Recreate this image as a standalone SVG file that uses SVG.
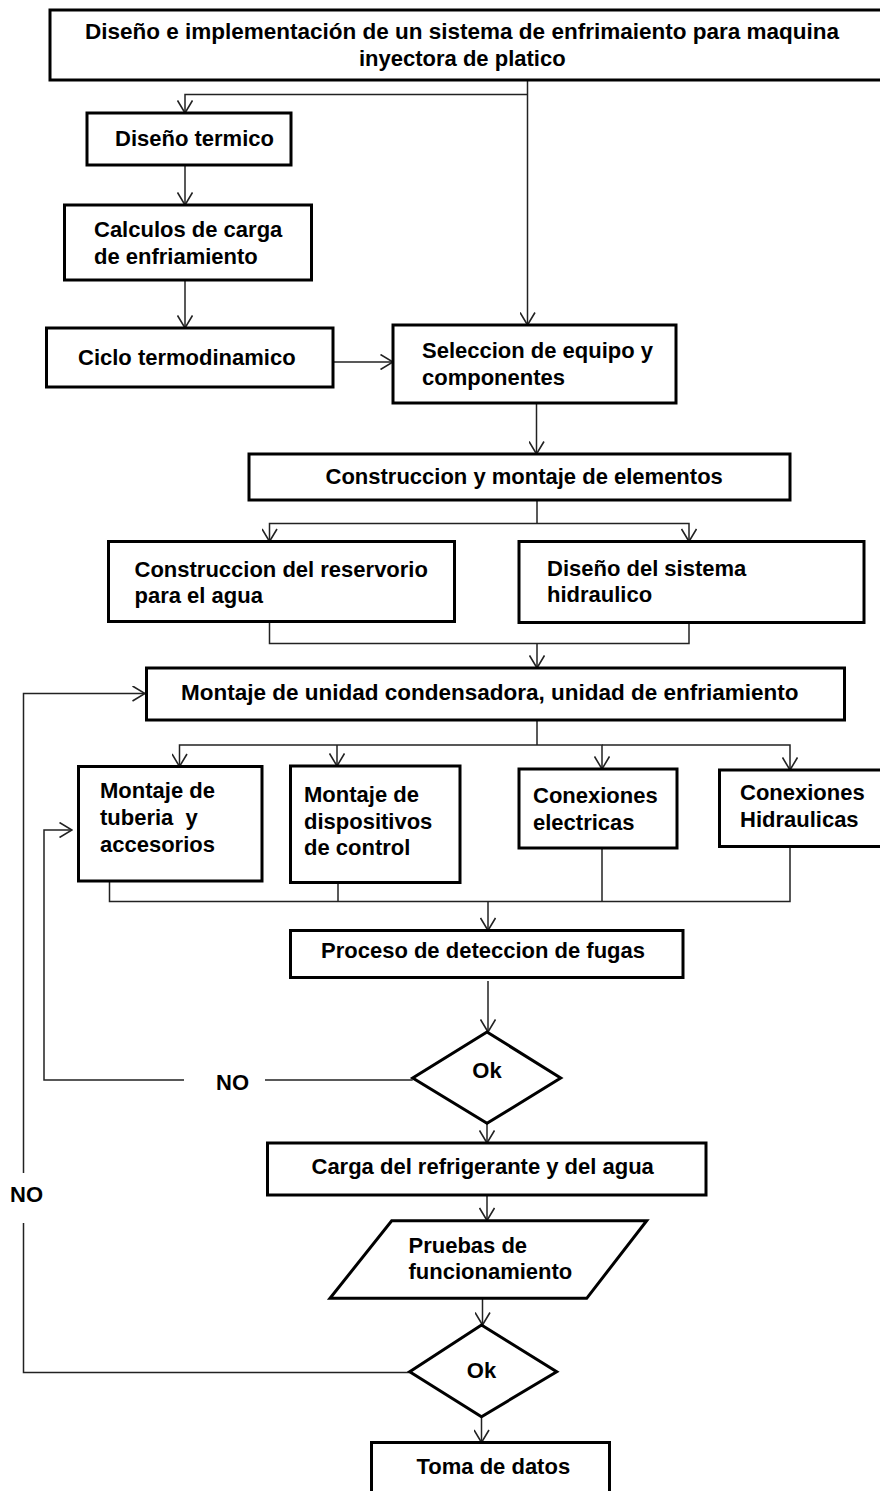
<svg xmlns="http://www.w3.org/2000/svg" width="880" height="1491" viewBox="0 0 880 1491">
<defs>
<marker id="ah" viewBox="0 0 14 16" refX="13.5" refY="8" markerWidth="14" markerHeight="16" markerUnits="userSpaceOnUse" orient="auto">
<path d="M1,0.5 L13.5,8 L1,15.5" fill="none" stroke="#222" stroke-width="1.6"/>
</marker>
<style>
.box{fill:#fff;stroke:#000;stroke-width:3}
.t{font-family:"Liberation Sans",Arial,sans-serif;font-weight:bold;font-size:22px;fill:#000}
.tc{text-anchor:middle}
.c{fill:none;stroke:#222;stroke-width:1.5}
.ca{fill:none;stroke:#222;stroke-width:1.5;marker-end:url(#ah)}
</style>
</defs>
<rect width="880" height="1491" fill="#fff"/>

<g id="connectors">
<path class="ca" d="M527.5,80 V325"/>
<path class="ca" d="M527.5,94.5 H185 V113"/>
<path class="ca" d="M185,165 V205"/>
<path class="ca" d="M185,280 V328"/>
<path class="ca" d="M333,362 H393"/>
<path class="ca" d="M536.5,403 V454"/>
<path class="c" d="M537,500 V523.5"/>
<path class="ca" d="M537,523.5 H269.5 V541.5"/>
<path class="ca" d="M537,523.5 H689 V541.5"/>
<path class="c" d="M269.5,621.5 V643.5 H689 V622.5"/>
<path class="ca" d="M537,643.5 V668"/>
<path class="c" d="M537,720 V745"/>
<path class="ca" d="M537,745 H179.5 V766.5"/>
<path class="ca" d="M337,745 V766"/>
<path class="ca" d="M537,745 H602 V769"/>
<path class="ca" d="M602,745 H790 V770"/>
<path class="c" d="M109.5,881 V901.5 H790 V846.5"/>
<path class="c" d="M338,882.5 V901.5"/>
<path class="c" d="M602,848 V901.5"/>
<path class="ca" d="M488,901.5 V930.5"/>
<path class="ca" d="M488,981 V1032"/>
<path class="c" d="M412.7,1080 H265"/>
<path class="ca" d="M184,1080 H44 V830 H72"/>
<path class="ca" d="M487,1123.3 V1143"/>
<path class="ca" d="M487,1195 V1220.5"/>
<path class="ca" d="M482.5,1298.5 V1325"/>
<path class="c" d="M409.7,1372.5 H23.5 V1223"/>
<path class="ca" d="M23.5,1173 V693.5 H145"/>
<path class="ca" d="M481.5,1416.7 V1442.5"/>
<text class="t" x="216" y="1090">NO</text>
<text class="t" x="10" y="1202">NO</text>
</g>

<g id="n-titulo">
<rect class="box" x="50" y="10" width="840" height="70"/>
<text class="t" x="85" y="38.5" style="font-size:22.5px">Diseño e implementación de un sistema de enfrimaiento para maquina</text>
<text class="t" x="359" y="66">inyectora de platico</text>
</g>

<g id="n-diseno-termico">
<rect class="box" x="87" y="113" width="204" height="52"/>
<text class="t" x="115" y="146">Diseño termico</text>
</g>

<g id="n-calculos">
<rect class="box" x="64.5" y="205" width="247" height="75"/>
<text class="t" x="94" y="237">Calculos de carga</text>
<text class="t" x="94" y="264">de enfriamiento</text>
</g>

<g id="n-ciclo">
<rect class="box" x="46.5" y="328" width="286.5" height="59"/>
<text class="t" x="78" y="365">Ciclo termodinamico</text>
</g>

<g id="n-seleccion">
<rect class="box" x="393" y="325" width="283" height="78"/>
<text class="t" x="422" y="358">Seleccion de equipo y</text>
<text class="t" x="422" y="385">componentes</text>
</g>

<g id="n-construccion">
<rect class="box" x="249" y="454" width="541" height="46"/>
<text class="t" x="325.5" y="484">Construccion y montaje de elementos</text>
</g>

<g id="n-reservorio">
<rect class="box" x="108.5" y="541.5" width="346" height="80"/>
<text class="t" x="134.5" y="577">Construccion del reservorio</text>
<text class="t" x="134.5" y="603">para el agua</text>
</g>

<g id="n-hidraulico">
<rect class="box" x="519" y="541.5" width="345" height="81"/>
<text class="t" x="547" y="576">Diseño del sistema</text>
<text class="t" x="547" y="602">hidraulico</text>
</g>

<g id="n-montaje-unidad">
<rect class="box" x="146.5" y="668" width="698" height="52"/>
<text class="t" x="181" y="700" style="font-size:22.5px">Montaje de unidad condensadora, unidad de enfriamiento</text>
</g>

<g id="n-tuberia">
<rect class="box" x="78.5" y="766.5" width="183.5" height="114.5"/>
<text class="t" x="100" y="798">Montaje de</text>
<text class="t" x="100" y="825" style="white-space:pre">tuberia  y</text>
<text class="t" x="100" y="852">accesorios</text>
</g>

<g id="n-dispositivos">
<rect class="box" x="290.5" y="766" width="169.5" height="116.5"/>
<text class="t" x="304" y="801.5">Montaje de</text>
<text class="t" x="304" y="828.5">dispositivos</text>
<text class="t" x="304" y="855">de control</text>
</g>

<g id="n-electricas">
<rect class="box" x="519" y="769" width="158" height="79"/>
<text class="t" x="533" y="802.5">Conexiones</text>
<text class="t" x="533" y="829.5">electricas</text>
</g>

<g id="n-hidraulicas">
<rect class="box" x="719.5" y="770" width="175" height="76.5"/>
<text class="t" x="740" y="800">Conexiones</text>
<text class="t" x="740" y="826.5">Hidraulicas</text>
</g>

<g id="n-fugas">
<rect class="box" x="290.5" y="930.5" width="392.5" height="47"/>
<text class="t" x="321" y="958">Proceso de deteccion de fugas</text>
</g>

<g id="n-ok1">
<polygon class="box" points="487,1032 560.7,1078 487,1123.3 412.7,1078"/>
<text class="t tc" x="487" y="1078">Ok</text>
</g>

<g id="n-carga">
<rect class="box" x="267.5" y="1143" width="438.5" height="52"/>
<text class="t" x="311.5" y="1173.5">Carga del refrigerante y del agua</text>
</g>

<g id="n-pruebas">
<polygon class="box" points="391.7,1220.7 646.7,1220.7 586.7,1298.3 330,1298.3"/>
<text class="t" x="408.5" y="1253">Pruebas de</text>
<text class="t" x="408.5" y="1279">funcionamiento</text>
</g>

<g id="n-ok2">
<polygon class="box" points="481.5,1325 556.7,1371.7 481.5,1416.7 409.7,1371.7"/>
<text class="t tc" x="481.5" y="1378">Ok</text>
</g>

<g id="n-toma">
<rect class="box" x="371.5" y="1442.5" width="238" height="70"/>
<text class="t" x="416.5" y="1473.5">Toma de datos</text>
</g>
</svg>
